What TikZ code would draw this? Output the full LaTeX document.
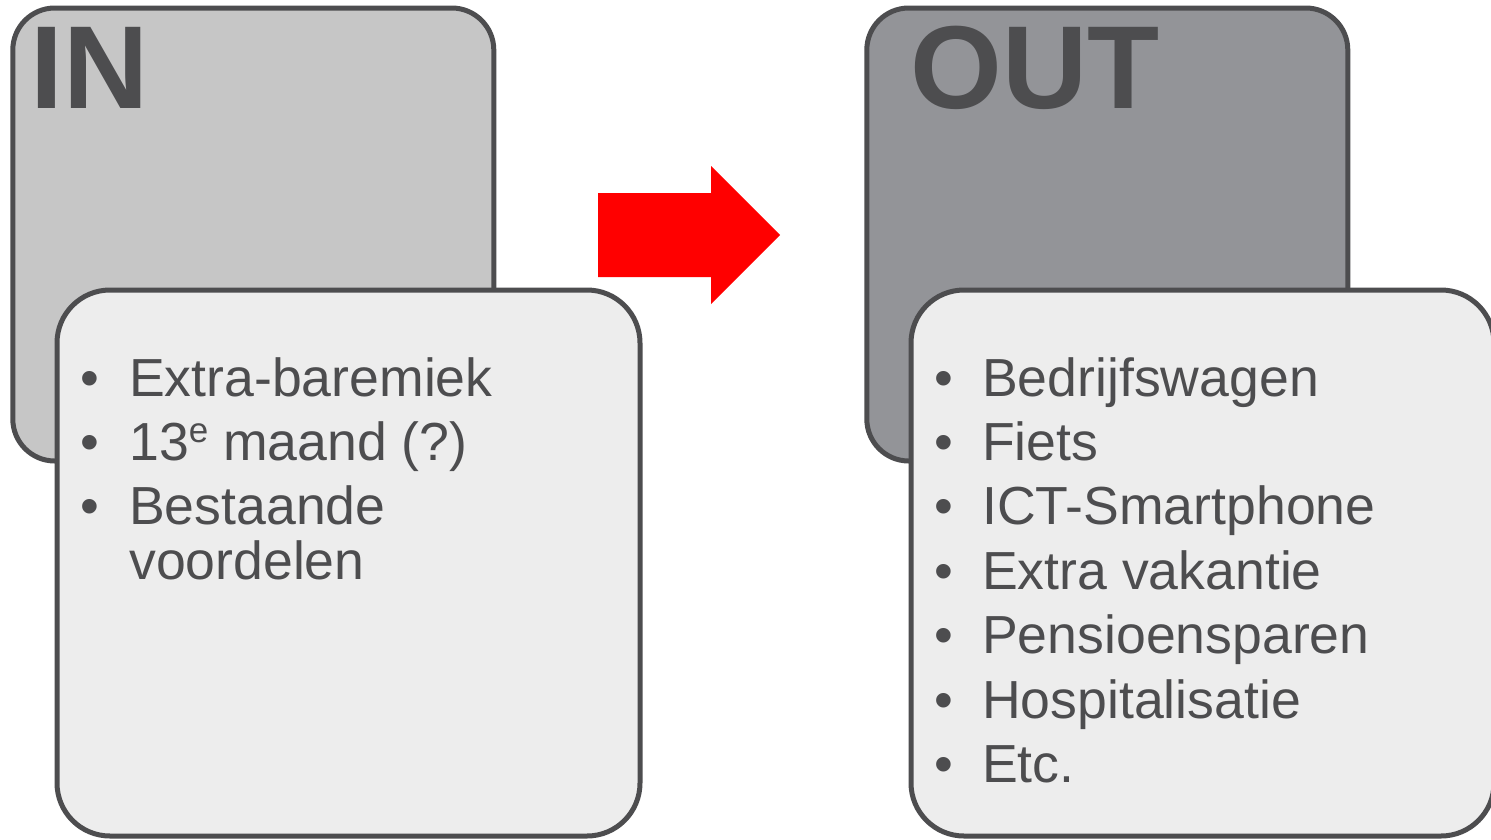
\documentclass[tikz,border=0pt]{standalone}
\usepackage{fontspec}
\setmainfont{Liberation Sans}
\definecolor{edge}{HTML}{4D4D4F}
\definecolor{inbackfill}{HTML}{C6C6C6}
\definecolor{outbackfill}{HTML}{939498}
\definecolor{frontfill}{HTML}{EDEDED}
\definecolor{arrowred}{HTML}{FF0000}
\begin{document}
\begin{tikzpicture}[x=1pt,y=-1pt,
  card/.style={draw=edge, line width=5pt, inner sep=0pt, outer sep=0pt},
  backcard/.style={card, minimum width=481pt, minimum height=453pt, rounded corners=42pt},
  frontcard/.style={card, fill=frontfill, minimum width=583pt, minimum height=546pt, rounded corners=53pt},
  titletext/.style={anchor=base west, inner sep=0pt, text=edge, font=\fontsize{118}{118}\selectfont\bfseries},
  itemtext/.style={anchor=base west, inner sep=0pt, text=edge, font=\fontsize{53.6}{53.6}\selectfont},
]
\useasboundingbox (0,0) rectangle (1491,839);

% IN side
\node[backcard, fill=inbackfill] (inback) at (253.3,234.5) {};
\node[titletext] (intitle) at (30.5,108) {IN};
\node[frontcard] (infront) at (348.5,563) {};
\node[itemtext] (inb1) at (80.7,396) {•};
\node[itemtext] (int1) at (129,396) {Extra-baremiek};
\node[itemtext] (inb2) at (80.7,460) {•};
\node[itemtext] (int2) at (129,460) {13\raisebox{18pt}{\fontsize{35}{35}\selectfont e} maand (?)};
\node[itemtext] (inb3) at (80.7,524) {•};
\node[itemtext] (int3) at (129,524) {Bestaande};
\node[itemtext] (int3b) at (129,579) {voordelen};

% arrow
\fill[arrowred] (598,193) -- (711,193) -- (711,166) -- (780,235) -- (711,304) -- (711,277) -- (598,277) -- cycle;

% OUT side
\node[backcard, fill=outbackfill] (outback) at (1107.3,234.5) {};
\node[titletext] (outtitle) at (910,108) {OUT};
\node[frontcard] (outfront) at (1202.5,563) {};
\foreach \t [count=\i] in {Bedrijfswagen,Fiets,ICT-Smartphone,Extra vakantie,Pensioensparen,Hospitalisatie,Etc.}{
  \node[itemtext] (outb\i) at (934.7,{396+64.4*(\i-1)}) {•};
  \node[itemtext] (outt\i) at (982,{396+64.4*(\i-1)}) {\t};
}
\end{tikzpicture}
\end{document}
